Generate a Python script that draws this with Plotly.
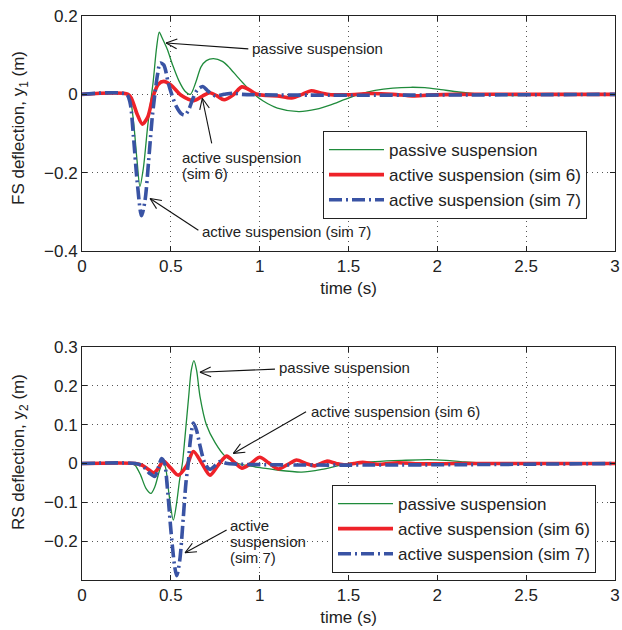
import math
import plotly.graph_objects as go

# ---------------- data ----------------
# Front suspension (top panel)
t_fs_passive = [0, 0.25, 0.27, 0.29, 0.31, 0.326, 0.345, 0.37, 0.40, 0.42, 0.435, 0.45, 0.48, 0.51,
                0.545, 0.58, 0.61, 0.64, 0.67, 0.70, 0.74, 0.79, 0.83, 0.87, 0.91, 0.96, 1.02, 1.10,
                1.22, 1.32, 1.40, 1.48, 1.56, 1.65, 1.75, 1.85, 1.93, 2.02, 2.12, 2.25, 2.40, 2.60,
                2.80, 3.0]
fs_passive = [0, 0, -0.01, -0.07, -0.17, -0.235, -0.19, -0.08, 0.03, 0.12, 0.159, 0.145, 0.115, 0.075,
              0.035, 0.008, 0.0, 0.03, 0.07, 0.086, 0.091, 0.084, 0.068, 0.047, 0.027, 0.004, -0.017,
              -0.035, -0.044, -0.038, -0.027, -0.013, 0.0, 0.01, 0.016, 0.018, 0.017, 0.012, 0.006,
              0.0, -0.003, -0.002, 0.0, 0.0]

t_fs_sim6 = [0, 0.26, 0.28, 0.31, 0.34, 0.37, 0.40, 0.43, 0.46, 0.50, 0.56, 0.63, 0.68, 0.72, 0.76,
             0.80, 0.85, 0.90, 0.94, 0.98, 1.04, 1.10, 1.18, 1.24, 1.29, 1.34, 1.40, 1.50, 1.62,
             1.75, 1.86, 1.95, 2.10, 2.50, 3.0]
fs_sim6 = [0, 0, -0.012, -0.05, -0.076, -0.058, -0.005, 0.026, 0.033, 0.024, -0.003, -0.016, -0.004,
           0.004, -0.004, -0.014, -0.002, 0.019, 0.012, 0.001, -0.003, -0.004, -0.009, 0.0, 0.009,
           0.004, -0.001, -0.001, 0.002, 0.0, -0.004, -0.002, 0.0, 0.0, 0.0]

t_fs_sim7 = [0, 0.25, 0.27, 0.29, 0.31, 0.335, 0.355, 0.375, 0.395, 0.41, 0.425, 0.44, 0.46, 0.485,
             0.505, 0.53, 0.56, 0.58, 0.60, 0.625, 0.65, 0.68, 0.71, 0.75, 0.80, 0.85, 0.90, 3.0]
fs_sim7 = [0, 0, -0.02, -0.11, -0.22, -0.31, -0.27, -0.17, -0.06, 0.0, 0.05, 0.08, 0.075, 0.03,
           0.0, -0.03, -0.05, -0.053, -0.04, -0.01, 0.012, 0.02, 0.008, -0.004, 0.0, 0.003, 0.0, 0.0]

# Rear suspension (bottom panel)
t_rs_passive = [0, 0.28, 0.30, 0.33, 0.36, 0.388, 0.41, 0.435, 0.455, 0.47, 0.49, 0.514, 0.53, 0.55,
                0.565, 0.58, 0.60, 0.615, 0.63, 0.645, 0.664, 0.70, 0.75, 0.805, 0.88, 0.95, 1.01,
                1.10, 1.236, 1.35, 1.50, 1.65, 1.80, 1.95, 2.05, 2.15, 2.30, 3.0]
rs_passive = [0, 0, -0.005, -0.03, -0.064, -0.077, -0.06, -0.02, 0.003, -0.01, -0.08, -0.146, -0.11,
              -0.04, 0.0, 0.07, 0.17, 0.24, 0.265, 0.24, 0.173, 0.10, 0.053, 0.019, 0.0, -0.007,
              -0.011, -0.017, -0.022, -0.015, 0.0, 0.005, 0.008, 0.01, 0.008, 0.004, 0.0, 0.0]

t_rs_sim6 = [0, 0.30, 0.34, 0.37, 0.405, 0.43, 0.458, 0.50, 0.542, 0.59, 0.627, 0.675, 0.72, 0.765,
             0.814, 0.86, 0.90, 0.95, 1.0, 1.05, 1.105, 1.16, 1.208, 1.26, 1.31, 1.345, 1.377, 1.43,
             1.48, 1.53, 1.58, 1.63, 1.68, 1.78, 1.90, 2.10, 3.0]
rs_sim6 = [0, 0, -0.005, -0.014, -0.024, -0.012, 0.006, -0.012, -0.03, -0.005, 0.031, 0.0, -0.03,
           -0.005, 0.019, 0.002, -0.012, 0.0, 0.016, 0.002, -0.014, -0.002, 0.009, 0.0, -0.006, 0.0,
           0.006, 0.0, -0.004, 0.0, 0.003, 0.0, -0.002, 0.002, -0.001, 0.0, 0.0]

t_rs_sim7 = [0, 0.30, 0.34, 0.38, 0.41, 0.43, 0.448, 0.465, 0.48, 0.50, 0.52, 0.533, 0.55, 0.57,
             0.585, 0.598, 0.61, 0.627, 0.645, 0.665, 0.692, 0.72, 0.75, 0.777, 0.82, 3.0]
rs_sim7 = [0, 0, -0.006, -0.025, -0.033, -0.01, 0.013, 0.0, -0.06, -0.17, -0.26, -0.289, -0.25, -0.14,
           -0.05, 0.0, 0.06, 0.104, 0.085, 0.044, 0.0, -0.015, -0.005, 0.005, 0.0, 0.0]

series_names = ["passive suspension", "active suspension (sim 6)", "active suspension (sim 7)"]
x_ticks = [0, 0.5, 1, 1.5, 2, 2.5, 3]
x_tick_labels = ["0", "0.5", "1", "1.5", "2", "2.5", "3"]
fs_ticks = [-0.4, -0.2, 0, 0.2]
fs_tick_labels = ["\u22120.4", "\u22120.2", "0", "0.2"]
rs_ticks = [-0.2, -0.1, 0, 0.1, 0.2, 0.3]
rs_tick_labels = ["\u22120.2", "\u22120.1", "0", "0.1", "0.2", "0.3"]

# ---------------- styling / layout ----------------
W, H = 622, 630
ML, MR, MT, MB = 82, 7, 16, 50
PW, PH = W - ML - MR, H - MT - MB
XR = [0, 3]
FS_R = [-0.4, 0.2]
RS_R = [-0.3, 0.3]
TOP_DOM = [1 - (251 - MT) / PH, 1.0]
BOT_DOM = [0.0, 1 - (347 - MT) / PH]

FONT = "Liberation Sans, Arial, Helvetica, sans-serif"
GREEN, RED, BLUE = "#1f8b3b", "#ee2229", "#3953a4"
styles = [dict(color=GREEN, width=1.3),
          dict(color=RED, width=3.6),
          dict(color=BLUE, width=3.6, dash="13px,4px,2px,4px")]

fig = go.Figure()
top_sets = [(t_fs_passive, fs_passive), (t_fs_sim6, fs_sim6), (t_fs_sim7, fs_sim7)]
bot_sets = [(t_rs_passive, rs_passive), (t_rs_sim6, rs_sim6), (t_rs_sim7, rs_sim7)]
for (tx, ty), name, st in zip(top_sets, series_names, styles):
    fig.add_trace(go.Scatter(x=tx, y=ty, mode="lines", name=name, line=dict(shape="spline", smoothing=0.8, **st),
                             xaxis="x", yaxis="y", legend="legend"))
for (tx, ty), name, st in zip(bot_sets, series_names, styles):
    fig.add_trace(go.Scatter(x=tx, y=ty, mode="lines", name=name, line=dict(shape="spline", smoothing=0.8, **st),
                             xaxis="x2", yaxis="y2", legend="legend2"))

axis_common = dict(showline=True, linecolor="#222", linewidth=1, mirror="ticks",
                   ticks="inside", ticklen=5, tickcolor="#222", automargin=False,
                   showgrid=True, gridcolor="#555", griddash="1px,4px", gridwidth=1,
                   zeroline=False, tickfont=dict(size=17, color="#222"),
                   title_font=dict(size=17, color="#222"))

fig.update_layout(
    width=W, height=H, margin=dict(l=ML, r=MR, t=MT, b=MB, autoexpand=False),
    paper_bgcolor="white", plot_bgcolor="white",
    font=dict(family=FONT, color="#222"),
    xaxis=dict(domain=[0, 1], anchor="y", range=XR, tickvals=x_ticks, ticktext=x_tick_labels,
               title=dict(text="time (s)", standoff=6), **axis_common),
    yaxis=dict(domain=TOP_DOM, anchor="x", range=FS_R, tickvals=fs_ticks, ticktext=fs_tick_labels,
               **axis_common),
    xaxis2=dict(domain=[0, 1], anchor="y2", range=XR, tickvals=x_ticks, ticktext=x_tick_labels,
                title=dict(text="time (s)", standoff=6), **axis_common),
    yaxis2=dict(domain=BOT_DOM, anchor="x2", range=RS_R, tickvals=rs_ticks, ticktext=rs_tick_labels,
                **axis_common),
    legend=dict(x=(323 - ML) / PW, y=1 - (131 - MT) / PH, xanchor="left", yanchor="top",
                bgcolor="white", bordercolor="#222", borderwidth=1, itemwidth=55,
                font=dict(size=17, color="#222"), tracegroupgap=0),
    legend2=dict(x=(332 - ML) / PW, y=1 - (485 - MT) / PH, xanchor="left", yanchor="top",
                 bgcolor="white", bordercolor="#222", borderwidth=1, itemwidth=55,
                 font=dict(size=17, color="#222"), tracegroupgap=0),
)

# y-axis titles placed as rotated annotations (MATLAB-like position)
fig.add_annotation(x=(20 - ML) / PW, y=1 - (128 - MT) / PH, xref="paper", yref="paper",
                   text="FS deflection, y<sub>1</sub> (m)", textangle=-90, showarrow=False,
                   xanchor="center", yanchor="middle", font=dict(size=17, color="#222", family=FONT))
fig.add_annotation(x=(20 - ML) / PW, y=1 - (452 - MT) / PH, xref="paper", yref="paper",
                   text="RS deflection, y<sub>2</sub> (m)", textangle=-90, showarrow=False,
                   xanchor="center", yanchor="middle", font=dict(size=17, color="#222", family=FONT))


# ---------------- annotations with open arrow heads ----------------
def to_px(t, y, yr, dom):
    px = ML + (t - XR[0]) / (XR[1] - XR[0]) * PW
    y_top = MT + (1 - dom[1]) * PH
    y_bot = MT + (1 - dom[0]) * PH
    py = y_top + (yr[1] - y) / (yr[1] - yr[0]) * (y_bot - y_top)
    return px, py


def to_data(px, py, yr, dom):
    t = XR[0] + (px - ML) / PW * (XR[1] - XR[0])
    y_top = MT + (1 - dom[1]) * PH
    y_bot = MT + (1 - dom[0]) * PH
    y = yr[1] - (py - y_top) / (y_bot - y_top) * (yr[1] - yr[0])
    return t, y


def add_arrow(head, tail, yr, dom, xref, yref):
    hx, hy = to_px(head[0], head[1], yr, dom)
    tx, ty = to_px(tail[0], tail[1], yr, dom)
    dx, dy = tx - hx, ty - hy
    L = math.hypot(dx, dy)
    ux, uy = dx / L, dy / L
    line = dict(color="#111", width=1.1)
    fig.add_shape(type="line", xref=xref, yref=yref, x0=head[0], y0=head[1], x1=tail[0], y1=tail[1], line=line)
    for s in (1, -1):
        a = math.radians(24) * s
        wx = hx + 12 * (ux * math.cos(a) - uy * math.sin(a))
        wy = hy + 12 * (ux * math.sin(a) + uy * math.cos(a))
        wt, wyv = to_data(wx, wy, yr, dom)
        fig.add_shape(type="line", xref=xref, yref=yref, x0=head[0], y0=head[1], x1=wt, y1=wyv, line=line)


def add_text(t, y, text, xref, yref):
    fig.add_annotation(x=t, y=y, xref=xref, yref=yref, text=text, showarrow=False,
                       xanchor="left", yanchor="middle", font=dict(size=15, color="#222", family=FONT))


# top panel
add_arrow((0.473, 0.131), (0.936, 0.116), FS_R, TOP_DOM, "x", "y")
add_text(0.948, 0.117, "passive suspension", "x", "y")
add_arrow((0.677, -0.01), (0.73, -0.125), FS_R, TOP_DOM, "x", "y")
add_text(0.551, -0.160, "active suspension", "x", "y")
add_text(0.551, -0.201, "(sim 6)", "x", "y")
add_arrow((0.383, -0.266), (0.655, -0.347), FS_R, TOP_DOM, "x", "y")
add_text(0.664, -0.351, "active suspension (sim 7)", "x", "y")

# bottom panel
add_arrow((0.664, 0.235), (1.086, 0.243), RS_R, BOT_DOM, "x2", "y2")
add_text(1.096, 0.247, "passive suspension", "x2", "y2")
add_arrow((0.852, 0.026), (1.261, 0.133), RS_R, BOT_DOM, "x2", "y2")
add_text(1.277, 0.135, "active suspension (sim 6)", "x2", "y2")
add_arrow((0.58, -0.23), (0.814, -0.171), RS_R, BOT_DOM, "x2", "y2")
add_text(0.823, -0.159, "active", "x2", "y2")
add_text(0.823, -0.202, "suspension", "x2", "y2")
add_text(0.823, -0.241, "(sim 7)", "x2", "y2")

fig.write_html("out.html", config={"displayModeBar": False},
               post_script="document.body.style.margin='0';")
